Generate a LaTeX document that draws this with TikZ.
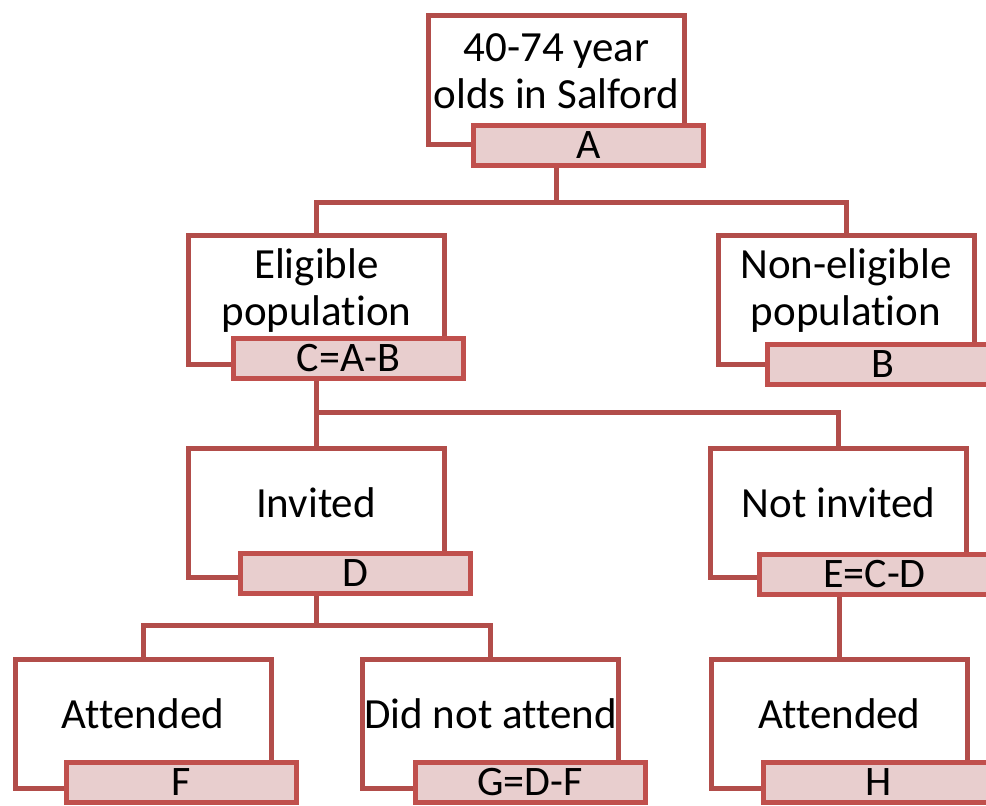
\documentclass[tikz,border=0pt]{standalone}
\usepackage{fontspec}
\setmainfont{Carlito}[Ligatures=NoCommon]
\usetikzlibrary{positioning}

\definecolor{boxred}{HTML}{B24D4A}
\definecolor{tagred}{HTML}{C0504D}
\definecolor{tagfill}{HTML}{E8CECE}

\tikzset{
  mainbox/.style={draw=boxred, line width=5pt, fill=white, minimum width=256pt, minimum height=129pt, inner sep=0pt},
  tagbox/.style={draw=tagred, line width=5pt, fill=tagfill, minimum width=230pt, minimum height=40pt, inner sep=0pt, font=\fontsize{42}{47}\selectfont},
  boxtext/.style={align=center, inner sep=0pt, font=\fontsize{43}{47}\selectfont},
  link/.style={draw=boxred, line width=5pt}
}

\begin{document}
\begin{tikzpicture}[x=1pt, y=-1pt]

    \useasboundingbox (0,0) rectangle (986,806);
    \clip (0,0) rectangle (986,806);

    % Main boxes
    \node[mainbox] (top) at (556.5,80) {}; % whole age group
    \node[mainbox] (elig) at (316.5,300) {}; % eligible
    \node[mainbox] (nonelig) at (846,300) {}; % not eligible
    \node[mainbox] (inv) at (316,513) {}; % invited
    \node[mainbox] (notinv) at (838.5,513) {}; % not invited
    \node[mainbox] (att) at (143,724) {}; % attended after invite
    \node[mainbox] (dna) at (490.5,724) {}; % did not attend
    \node[mainbox] (attni) at (839.5,724) {}; % attended without invite

    % Box texts
    \node[boxtext] (topT) at ([yshift=9pt]top.center) {40-74 year\\olds in Salford};
    \node[boxtext] (eligT) at ([yshift=9pt]elig.center) {Eligible\\population};
    \node[boxtext] (noneligT) at ([yshift=9pt]nonelig.center) {Non-eligible\\population};
    \node[boxtext] (invT) at ([yshift=10pt]inv.center) {Invited};
    \node[boxtext] (notinvT) at ([yshift=10pt]notinv.center) {Not invited};
    \node[boxtext] (attT) at ([yshift=10pt]att.center) {Attended};
    \node[boxtext] (dnaT) at ([yshift=10pt]dna.center) {Did not attend};
    \node[boxtext] (attniT) at ([yshift=10pt]attni.center) {Attended};

    % Count tags
    \node[tagbox] (tagA) at (588.5,145.5) {A};
    \node[tagbox] (tagC) at (348.5,358) {C=A-B};
    \node[tagbox] (tagB) at (882.5,364.5) {B};
    \node[tagbox] (tagD) at (355,573) {D};
    \node[tagbox] (tagE) at (874.5,574) {E=C-D};
    \node[tagbox] (tagF) at (181.5,782.5) {F};
    \node[tagbox] (tagG) at (530,782.5) {G=D-F};
    \node[tagbox] (tagH) at (878.5,782) {H};

    % Connectors
    \draw[link] (tagA.south -| top.south) -- ++(0,34) coordinate (splitA);
    \draw[link] (elig.north) |- (splitA) -| (nonelig.north);
    \draw[link] (tagC.south -| elig.south) -- ++(0,32) coordinate (splitC);
    \draw[link] (inv.north) |- (splitC) -| (notinv.north);
    \draw[link] (tagD.south -| inv.south) -- ++(0,30) coordinate (splitD);
    \draw[link] (att.north) |- (splitD) -| (dna.north);
    \draw[link] (tagE.south -| attni.north) -- (attni.north);

\end{tikzpicture}
\end{document}
